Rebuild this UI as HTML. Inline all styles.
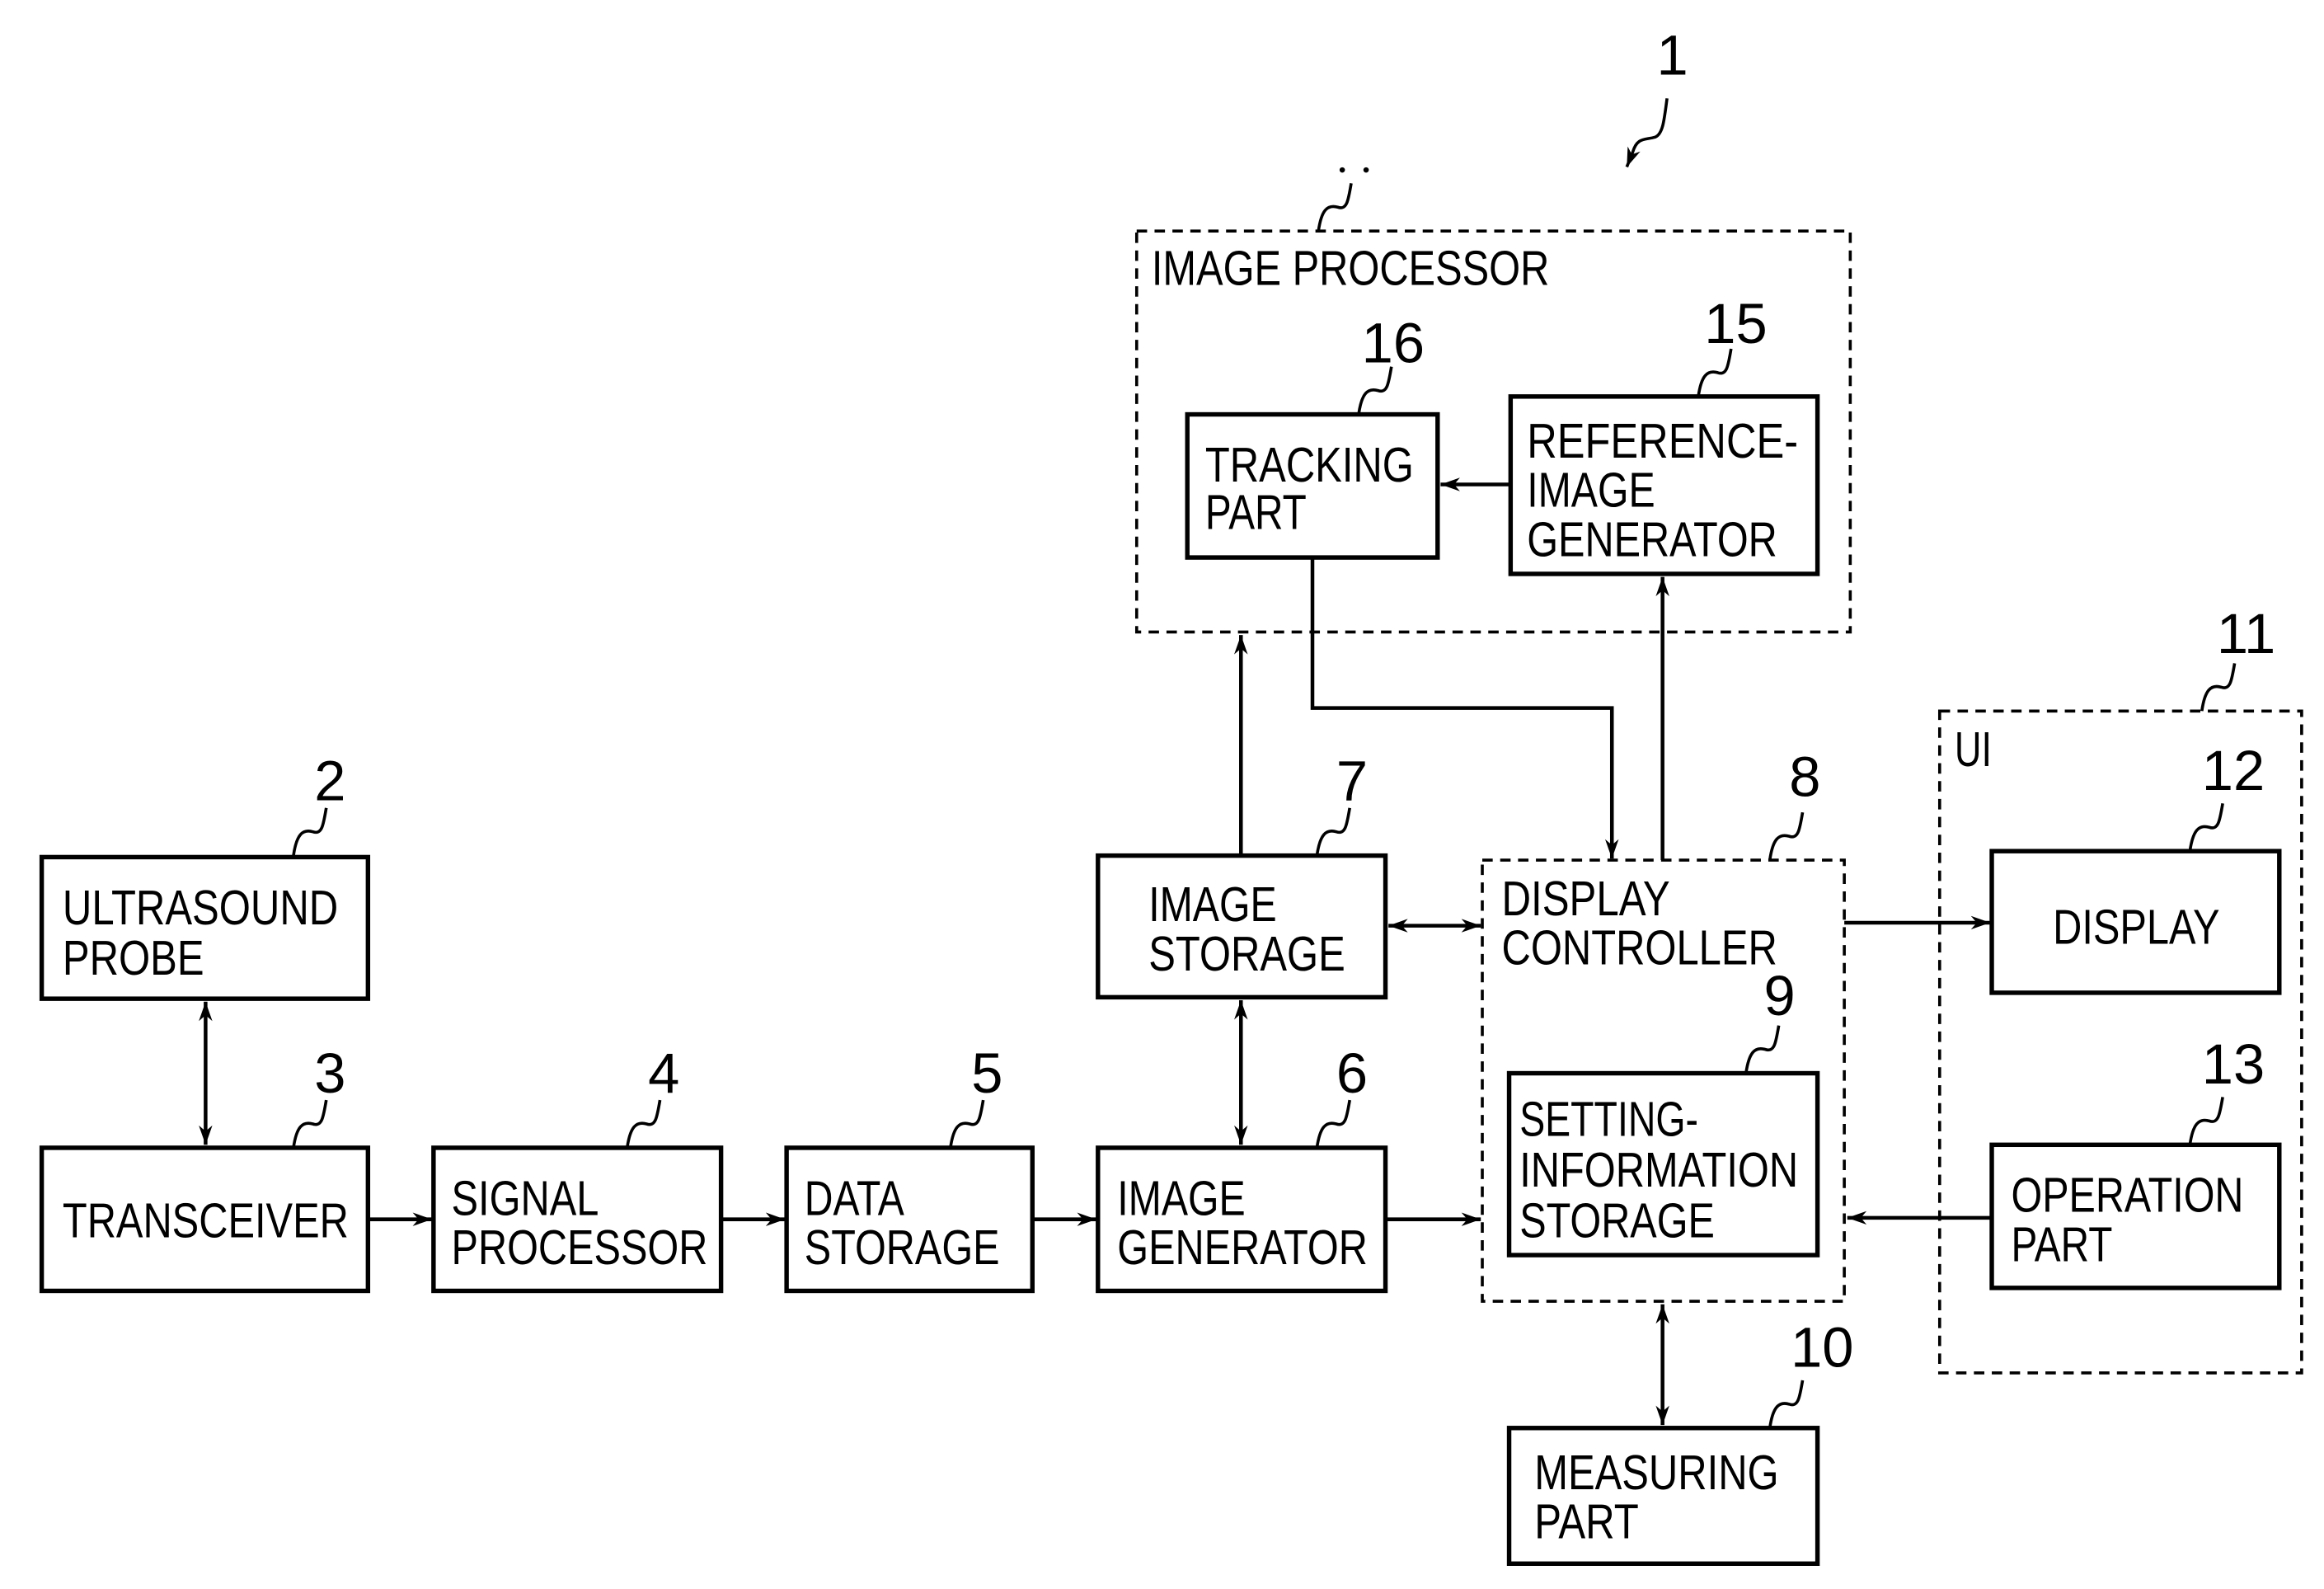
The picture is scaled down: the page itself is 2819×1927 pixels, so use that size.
<!DOCTYPE html>
<html><head><meta charset="utf-8"><style>
html,body{margin:0;padding:0;background:#fff;}
svg{display:block;}
text{font-family:"Liberation Sans",sans-serif;fill:#000;}
.t{font-size:33px;}
.n{font-size:38px;}
</style></head><body>
<svg width="2819" height="1927" viewBox="0 0 1560 1066" preserveAspectRatio="none" xmlns="http://www.w3.org/2000/svg">
<defs>
<marker id="a" viewBox="0 0 10 10" refX="10" refY="5" markerWidth="13" markerHeight="13" orient="auto-start-reverse" markerUnits="userSpaceOnUse">
<path d="M0,1.5 L10,5 L0,8.5 L3,5 z" fill="#000"/>
</marker>
</defs>
<g fill="none" stroke="#000" stroke-width="3">
<rect x="28" y="575" width="219" height="95"/>
<rect x="28" y="770" width="219" height="96"/>
<rect x="291" y="770" width="193" height="96"/>
<rect x="528" y="770" width="165" height="96"/>
<rect x="737" y="770" width="193" height="96"/>
<rect x="737" y="574" width="193" height="95"/>
<rect x="1013" y="720" width="207" height="122"/>
<rect x="1013" y="958" width="207" height="91"/>
<rect x="797" y="278" width="168" height="96"/>
<rect x="1014" y="266" width="206" height="119"/>
<rect x="1337" y="571" width="193" height="95"/>
<rect x="1337" y="768" width="193" height="96"/>
</g>
<g fill="none" stroke="#000" stroke-width="2" stroke-dasharray="7,5">
<rect x="995" y="577" width="243" height="296"/>
<rect x="763" y="155" width="479" height="269"/>
<rect x="1302" y="477" width="243" height="444"/>
</g>
<g fill="none" stroke="#000" stroke-width="2.5">
<line x1="138" y1="672" x2="138" y2="768" marker-start="url(#a)" marker-end="url(#a)"/>
<line x1="247" y1="818" x2="290" y2="818" marker-end="url(#a)"/>
<line x1="484" y1="818" x2="527" y2="818" marker-end="url(#a)"/>
<line x1="693" y1="818" x2="736" y2="818" marker-end="url(#a)"/>
<line x1="930" y1="818" x2="994" y2="818" marker-end="url(#a)"/>
<line x1="833" y1="671" x2="833" y2="768" marker-start="url(#a)" marker-end="url(#a)"/>
<line x1="833" y1="574" x2="833" y2="426" marker-end="url(#a)"/>
<line x1="932" y1="621" x2="994" y2="621" marker-start="url(#a)" marker-end="url(#a)"/>
<polyline points="881,374 881,475 1082,475 1082,576" marker-end="url(#a)"/>
<line x1="1116" y1="577" x2="1116" y2="387" marker-end="url(#a)"/>
<line x1="1014" y1="325" x2="967" y2="325" marker-end="url(#a)"/>
<line x1="1238" y1="619" x2="1336" y2="619" marker-end="url(#a)"/>
<line x1="1337" y1="817" x2="1240" y2="817" marker-end="url(#a)"/>
<line x1="1116" y1="875" x2="1116" y2="956" marker-start="url(#a)" marker-end="url(#a)"/>
</g>
<g fill="none" stroke="#000" stroke-width="2">
<path d="M197,574 C199,560 203,556 210,558 C216,560 217,554 219,542"/>
<path d="M197,770 C199,756 203,752 210,754 C216,756 217,750 219,738"/>
<path d="M421,770 C423,756 427,752 434,754 C440,756 441,750 443,738"/>
<path d="M638,770 C640,756 644,752 651,754 C657,756 658,750 660,738"/>
<path d="M884,770 C886,756 890,752 897,754 C903,756 904,750 906,738"/>
<path d="M884,574 C886,560 890,556 897,558 C903,560 904,554 906,542"/>
<path d="M1188,577 C1190,563 1194,559 1201,561 C1207,563 1208,557 1210,545"/>
<path d="M1172,720 C1174,706 1178,702 1185,704 C1191,706 1192,700 1194,688"/>
<path d="M1188,958 C1190,944 1194,940 1201,942 C1207,944 1208,938 1210,926"/>
<path d="M1478,477 C1480,463 1484,459 1491,461 C1497,463 1498,457 1500,445"/>
<path d="M1470,571 C1472,557 1476,553 1483,555 C1489,557 1490,551 1492,539"/>
<path d="M1470,768 C1472,754 1476,750 1483,752 C1489,754 1490,748 1492,736"/>
<path d="M1140,266 C1142,252 1146,248 1153,250 C1159,252 1160,246 1162,234"/>
<path d="M912,278 C914,264 918,260 925,262 C931,264 932,258 934,246"/>
<path d="M885,155 C887,141 891,137 898,139 C904,141 905,135 907,123"/>
<path d="M1119,66 C1117,82 1116,90 1111,92 C1104,94 1099,92 1096,102 L1092,112" marker-end="url(#a)"/>
</g>
<circle cx="901" cy="114" r="1.8" fill="#000"/>
<circle cx="917" cy="114" r="1.8" fill="#000"/>
<g class="t">
<text x="42" y="620" textLength="185" lengthAdjust="spacingAndGlyphs">ULTRASOUND</text>
<text x="42" y="654" textLength="95" lengthAdjust="spacingAndGlyphs">PROBE</text>
<text x="42" y="830" textLength="192" lengthAdjust="spacingAndGlyphs">TRANSCEIVER</text>
<text x="303" y="815" textLength="99" lengthAdjust="spacingAndGlyphs">SIGNAL</text>
<text x="303" y="848" textLength="172" lengthAdjust="spacingAndGlyphs">PROCESSOR</text>
<text x="540" y="815" textLength="67" lengthAdjust="spacingAndGlyphs">DATA</text>
<text x="540" y="848" textLength="131" lengthAdjust="spacingAndGlyphs">STORAGE</text>
<text x="750" y="815" textLength="86" lengthAdjust="spacingAndGlyphs">IMAGE</text>
<text x="750" y="848" textLength="168" lengthAdjust="spacingAndGlyphs">GENERATOR</text>
<text x="771" y="618" textLength="86" lengthAdjust="spacingAndGlyphs">IMAGE</text>
<text x="771" y="651" textLength="132" lengthAdjust="spacingAndGlyphs">STORAGE</text>
<text x="1008" y="614" textLength="113" lengthAdjust="spacingAndGlyphs">DISPLAY</text>
<text x="1008" y="647" textLength="185" lengthAdjust="spacingAndGlyphs">CONTROLLER</text>
<text x="1020" y="762" textLength="120" lengthAdjust="spacingAndGlyphs">SETTING-</text>
<text x="1020" y="796" textLength="187" lengthAdjust="spacingAndGlyphs">INFORMATION</text>
<text x="1020" y="830" textLength="131" lengthAdjust="spacingAndGlyphs">STORAGE</text>
<text x="1030" y="999" textLength="164" lengthAdjust="spacingAndGlyphs">MEASURING</text>
<text x="1030" y="1032" textLength="70" lengthAdjust="spacingAndGlyphs">PART</text>
<text x="773" y="191" textLength="267" lengthAdjust="spacingAndGlyphs">IMAGE PROCESSOR</text>
<text x="809" y="323" textLength="140" lengthAdjust="spacingAndGlyphs">TRACKING</text>
<text x="809" y="355" textLength="68" lengthAdjust="spacingAndGlyphs">PART</text>
<text x="1025" y="307" textLength="182" lengthAdjust="spacingAndGlyphs">REFERENCE-</text>
<text x="1025" y="340" textLength="86" lengthAdjust="spacingAndGlyphs">IMAGE</text>
<text x="1025" y="373" textLength="168" lengthAdjust="spacingAndGlyphs">GENERATOR</text>
<text x="1312" y="514" textLength="25" lengthAdjust="spacingAndGlyphs">UI</text>
<text x="1378" y="633" textLength="112" lengthAdjust="spacingAndGlyphs">DISPLAY</text>
<text x="1350" y="813" textLength="156" lengthAdjust="spacingAndGlyphs">OPERATION</text>
<text x="1350" y="846" textLength="68" lengthAdjust="spacingAndGlyphs">PART</text>
</g>
<g class="n">
<text x="1112" y="50">1</text>
<text x="211" y="537">2</text>
<text x="211" y="733">3</text>
<text x="435" y="733">4</text>
<text x="652" y="733">5</text>
<text x="897" y="733">6</text>
<text x="897" y="537">7</text>
<text x="1201" y="534">8</text>
<text x="1184" y="681">9</text>
<text x="1202" y="917">10</text>
<text x="1488" y="438">11</text>
<text x="1478" y="530">12</text>
<text x="1478" y="727">13</text>
<text x="1144" y="230">15</text>
<text x="914" y="243">16</text>
</g>
</svg>
</body></html>
